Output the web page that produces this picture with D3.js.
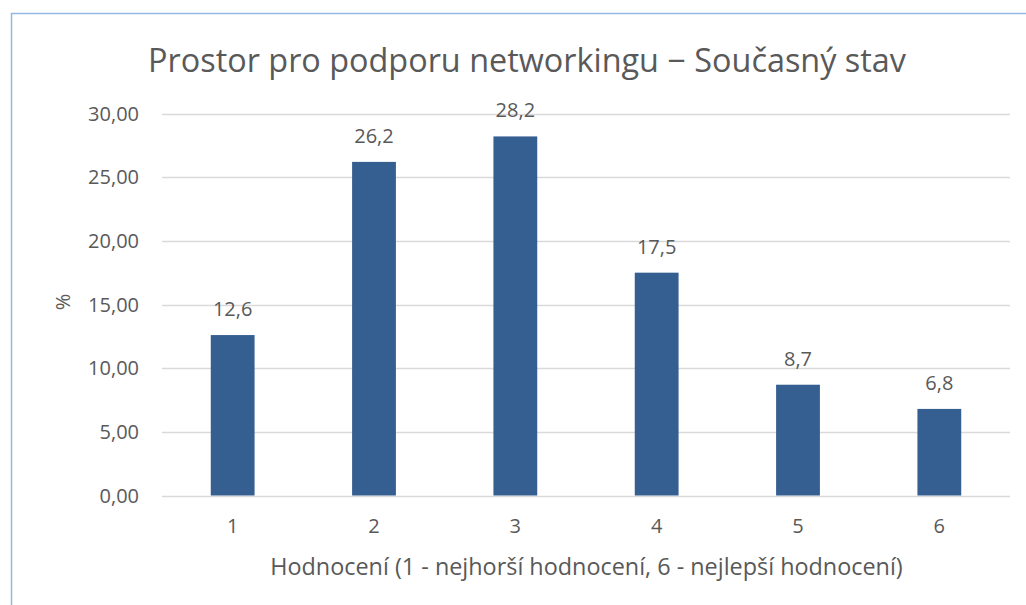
<!DOCTYPE html>
<html>
<head>
<meta charset="utf-8">
<script src="https://cdn.jsdelivr.net/npm/d3@7"></script>
<style>
  body { margin: 0; background: #fff; }
  text { font-family: "Open Sans", "Noto Sans", sans-serif; fill: #595959; }
</style>
</head>
<body>
<div class="container"></div>
<script>
var categories = ["1", "2", "3", "4", "5", "6"];
var values = [12.6, 26.2, 28.2, 17.5, 8.7, 6.8];
var yTicks = [0, 5, 10, 15, 20, 25, 30];

var chartTitle = "Prostor pro podporu networkingu \u2212 Sou\u010dasn\u00fd stav";
var xTitle = "Hodnocen\u00ed (1 - nejhor\u0161\u00ed hodnocen\u00ed, 6 - nejlep\u0161\u00ed hodnocen\u00ed)";
var yTitle = "%";

var width = 1026, height = 605;
var margin = { left: 162, right: 16, top: 113.5, bottom: 109.5 };

var svg = d3.select('.container')
    .append('svg')
    .attr('width', width)
    .attr('height', height)

// chart frame
svg.append('rect')
    .attr('x', 11.5).attr('y', 13.5)
    .attr('width', 1040).attr('height', 620)
    .attr('fill', 'none')
    .attr('stroke', '#95b8e2')
    .attr('stroke-width', 1.5)

var x = d3.scaleBand()
    .domain(categories)
    .range([margin.left, width - margin.right])
    .paddingInner(0.69)
    .paddingOuter(0.345)

var y = d3.scaleLinear()
    .domain([0, 30])
    .range([height - margin.bottom, margin.top])

function fmt(v, d) {
    return v.toFixed(d).replace('.', ',');
}

// fit text width to a target by adjusting font size
function fitWidth(sel, target) {
    var fs = parseFloat(sel.attr('font-size'));
    var w = sel.node().getComputedTextLength();
    sel.attr('font-size', fs * target / w);
}

// gridlines
svg.append('g')
    .selectAll('line')
    .data(yTicks)
    .enter().append('line')
    .attr('x1', margin.left)
    .attr('x2', width - margin.right)
    .attr('y1', function (d) { return Math.round(y(d)) + 0.5; })
    .attr('y2', function (d) { return Math.round(y(d)) + 0.5; })
    .attr('stroke', '#d9d9d9')
    .attr('stroke-width', 1.5)

// y tick labels
svg.append('g')
    .selectAll('text')
    .data(yTicks)
    .enter().append('text')
    .attr('x', 139)
    .attr('y', function (d) { return y(d) + 7; })
    .attr('text-anchor', 'end')
    .attr('font-size', 20)
    .text(function (d) { return fmt(d, 2); })

// bars
svg.append('g')
    .selectAll('rect')
    .data(values)
    .enter().append('rect')
    .attr('x', function (d, i) { return x(categories[i]); })
    .attr('width', x.bandwidth())
    .attr('y', function (d) { return y(d); })
    .attr('height', function (d) { return y(0) - y(d); })
    .attr('fill', '#365f91')

// data labels
svg.append('g')
    .selectAll('text')
    .data(values)
    .enter().append('text')
    .attr('x', function (d, i) { return x(categories[i]) + x.bandwidth() / 2; })
    .attr('y', function (d) { return y(d) - 19; })
    .attr('text-anchor', 'middle')
    .attr('font-size', 20)
    .text(function (d) { return fmt(d, 1); })

// x tick labels
svg.append('g')
    .selectAll('text')
    .data(categories)
    .enter().append('text')
    .attr('x', function (d) { return x(d) + x.bandwidth() / 2; })
    .attr('y', 533)
    .attr('text-anchor', 'middle')
    .attr('font-size', 20)
    .text(function (d) { return d; })

// titles
var t = svg.append('text')
    .attr('x', 527)
    .attr('y', 72)
    .attr('text-anchor', 'middle')
    .attr('font-size', 30)
    .text(chartTitle)
fitWidth(t, 758)

var xt = svg.append('text')
    .attr('x', 586.5)
    .attr('y', 575)
    .attr('text-anchor', 'middle')
    .attr('font-size', 19)
    .text(xTitle)
fitWidth(xt, 633)

svg.append('text')
    .attr('transform', 'translate(70,302) rotate(-90)')
    .attr('text-anchor', 'middle')
    .attr('font-size', 20)
    .text(yTitle)
</script>
</body>
</html>
